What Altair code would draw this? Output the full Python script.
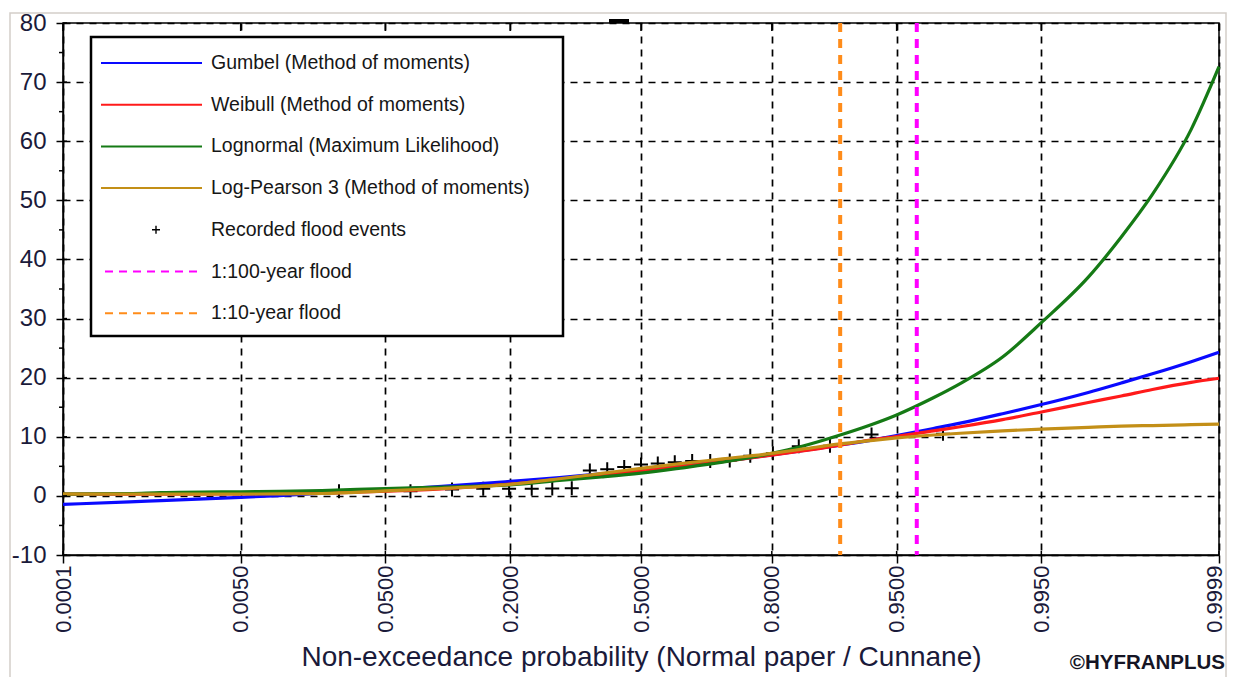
import altair as alt
import pandas as pd
from statistics import NormalDist

ND = NormalDist()
FONT = "Liberation Sans"

# ---------------- data ----------------
prob = [0.0001, 0.0005, 0.001, 0.005, 0.01, 0.02, 0.05, 0.1, 0.2, 0.3, 0.4, 0.5,
        0.6, 0.7, 0.8, 0.85, 0.9, 0.93, 0.95, 0.97, 0.98, 0.99, 0.995, 0.998,
        0.999, 0.9995, 0.9998, 0.9999]
gumbel = [-1.45, -1.0, -0.8, -0.25, 0.05, 0.45, 1.0, 1.6, 2.45, 3.1, 3.75, 4.35,
          5.05, 5.85, 6.95, 7.65, 8.6, 9.4, 10.2, 11.4, 12.3, 13.9, 15.45, 17.5,
          19.1, 20.65, 22.7, 24.3]
weibull = [0.3, 0.3, 0.3, 0.35, 0.4, 0.45, 0.8, 1.2, 2.0, 2.8, 3.5, 4.2,
           4.95, 5.8, 6.9, 7.6, 8.6, 9.45, 10.05, 11.0, 11.7, 12.9, 14.2, 15.8,
           16.9, 18.0, 19.2, 19.9]
lognormal = [0.3, 0.4, 0.55, 0.7, 0.75, 0.9, 1.25, 1.5, 1.85, 2.6, 3.2, 3.85,
             4.7, 5.7, 7.2, 8.4, 10.3, 12.0, 13.7, 16.6, 19.0, 23.5, 29.3, 37.0,
             43.8, 51.0, 62.0, 72.6]
lp3 = [0.32, 0.32, 0.32, 0.32, 0.33, 0.4, 0.85, 1.25, 1.95, 2.9, 3.8, 4.65,
       5.45, 6.25, 7.2, 7.9, 8.8, 9.35, 9.8, 10.3, 10.6, 11.0, 11.3, 11.6,
       11.8, 11.9, 12.05, 12.15]

event_p = [0.026, 0.069, 0.112, 0.155, 0.198, 0.241, 0.284, 0.328, 0.371, 0.414,
           0.457, 0.500, 0.543, 0.586, 0.629, 0.672, 0.716, 0.759, 0.802, 0.845,
           0.888, 0.931, 0.974]
event_v = [0.8, 0.8, 1.1, 1.2, 1.2, 1.2, 1.25, 1.3, 4.3, 4.5, 4.9, 5.3,
           5.5, 5.7, 5.9, 5.9, 6.0, 6.8, 7.2, 8.4, 8.5, 10.4, 10.5]

tick_p = [0.0001, 0.005, 0.05, 0.2, 0.5, 0.8, 0.95, 0.995, 0.9999]
tick_labels = ["0.0001", "0.0050", "0.0500", "0.2000", "0.5000", "0.8000",
               "0.9500", "0.9950", "0.9999"]
y_major = list(range(-10, 81, 10))
y_minor = list(range(-5, 80, 10))

ref_names = ["1:100-year flood", "1:10-year flood"]
ref_p = [0.962, 0.9]
ref_colors = ["#ff00ff", "#ff8c1a"]

series_names = ["Gumbel (Method of moments)", "Weibull (Method of moments)",
                "Lognormal (Maximum Likelihood)", "Log-Pearson 3 (Method of moments)"]
series_values = [gumbel, weibull, lognormal, lp3]
series_colors = ["#0a0aff", "#ff1a1a", "#157a15", "#c38f17"]

# ---------------- layout ----------------
W, H = 1156, 532
PAD = {"left": 55, "top": 15, "right": 8, "bottom": 122}

# ---------------- scales / axes ----------------
z = lambda p: ND.inv_cdf(p)
tick_z = [z(p) for p in tick_p]
zmin, zmax = tick_z[0], tick_z[-1]

expr = "'" + tick_labels[-1] + "'"
for i in range(len(tick_z) - 2, -1, -1):
    mid = (tick_z[i] + tick_z[i + 1]) / 2
    expr = f"datum.value < {mid:.4f} ? '{tick_labels[i]}' : ({expr})"

LABEL_COLOR = "#1a1a3a"
XS = alt.Scale(domain=[zmin, zmax], nice=False, zero=False)
YS = alt.Scale(domain=[-10, 80], nice=False, zero=False)
XAXIS = alt.Axis(values=tick_z, labelExpr=expr, labelAngle=-90, labelFlush=False,
                 labelOverlap=False, labelFont=FONT, labelFontSize=22,
                 labelOffset={"condition": {"test": "datum.value > 3.5", "value": -5},
                              "value": 0},
                 labelColor=LABEL_COLOR, labelPadding=2, tickSize=8,
                 tickColor="black", tickWidth=1.5, domainColor="black",
                 domainWidth=1.5, grid=True, gridColor="black", gridDash=[7, 6],
                 gridWidth=1.7, gridOpacity=1,
                 title="Non-exceedance probability (Normal paper / Cunnane)",
                 titleFont=FONT, titleFontSize=28, titleFontWeight="normal",
                 titleColor=LABEL_COLOR, titleX=W / 2, titleY=110,
                 titleBaseline="alphabetic", titleAlign="center")
YAXIS = alt.Axis(values=y_major, labelExpr="'' + datum.value", labelFont=FONT,
                 labelFontSize=24, labelColor=LABEL_COLOR, labelPadding=10,
                 tickSize=7, tickColor="black", tickWidth=1.5,
                 domainColor="black", domainWidth=1.5, grid=True,
                 gridColor="black", gridDash=[7, 6], gridWidth=1.7,
                 gridOpacity=1, title=None)
X_ENC = alt.X("z:Q", scale=XS, axis=XAXIS)
Y_ENC = alt.Y("v:Q", scale=YS, axis=YAXIS)

one = pd.DataFrame({"k": [0]})
layers = []

# frame of the screenshot
layers.append(alt.Chart(one).mark_rect(fill=None, stroke="#d3cec9", strokeWidth=1.5).encode(
    x=alt.value(-53), x2=alt.value(W + 7), y=alt.value(-10), y2=alt.value(700)))

# recorded events
ev = pd.DataFrame({"z": [z(p) for p in event_p], "v": event_v})
PLUS = "M-1,0H1M0,-1V1"
layers.append(alt.Chart(ev).mark_point(shape=PLUS, size=196, filled=False,
                                       strokeWidth=2, color="black", opacity=1)
              .encode(x=X_ENC, y=Y_ENC))

# fitted distributions
for name, vals, col in zip(series_names, series_values, series_colors):
    df = pd.DataFrame({"z": [z(p) for p in prob], "v": vals})
    layers.append(alt.Chart(df).mark_line(color=col, strokeWidth=3.2,
                                          interpolate="monotone")
                  .encode(x=X_ENC, y=Y_ENC))

# reference lines
for p, col in zip(ref_p[::-1], ref_colors[::-1]):
    df = pd.DataFrame({"z": [z(p)]})
    layers.append(alt.Chart(df).mark_rule(color=col, strokeWidth=4,
                                          strokeDash=[9, 7]).encode(x=X_ENC))

# extra tick decorations
tdf = pd.DataFrame({"z": tick_z})
layers.append(alt.Chart(tdf).mark_rule(color="black", strokeWidth=1.5).encode(
    x=X_ENC, y=alt.value(0), y2=alt.value(8)))
layers.append(alt.Chart(tdf).mark_rule(color="black", strokeWidth=1.5).encode(
    x=X_ENC, y=alt.value(H - 4), y2=alt.value(H)))
layers.append(alt.Chart(pd.DataFrame({"v": y_major})).mark_rule(
    color="black", strokeWidth=1.5).encode(y=Y_ENC, x=alt.value(0), x2=alt.value(4)))
layers.append(alt.Chart(pd.DataFrame({"v": y_minor})).mark_rule(
    color="black", strokeWidth=1.5).encode(y=Y_ENC, x=alt.value(-4), x2=alt.value(0)))

# legend box
layers.append(alt.Chart(one).mark_rect(fill="white", stroke="black", strokeWidth=2.5).encode(
    x=alt.value(28), x2=alt.value(500), y=alt.value(14), y2=alt.value(313)))

leg_names = series_names + ["Recorded flood events"] + ref_names
for i, name in enumerate(leg_names):
    yy = 40 + 41.7 * i
    if i < 4:
        layers.append(alt.Chart(one).mark_rule(color=series_colors[i], strokeWidth=2).encode(
            x=alt.value(38), x2=alt.value(139), y=alt.value(yy)))
    elif i == 4:
        layers.append(alt.Chart(one).mark_point(shape=PLUS, size=64, filled=False,
                                                strokeWidth=1.4, color="black", opacity=1)
                      .encode(x=alt.value(93), y=alt.value(yy)))
    else:
        layers.append(alt.Chart(one).mark_rule(color=ref_colors[i - 5], strokeWidth=2,
                                               strokeDash=[8, 6]).encode(
            x=alt.value(42), x2=alt.value(139), y=alt.value(yy)))
    layers.append(alt.Chart(one).mark_text(text=name, align="left", baseline="middle",
                                           font=FONT, fontSize=19.5, color="#161616")
                  .encode(x=alt.value(148), y=alt.value(yy)))

# small black bar above the top border
layers.append(alt.Chart(one).mark_rect(color="black").encode(
    x=alt.value(546), x2=alt.value(566), y=alt.value(-4), y2=alt.value(0)))

# copyright
layers.append(alt.Chart(one).mark_text(text="\u00a9HYFRANPLUS", align="right",
                                       baseline="alphabetic", font=FONT, fontSize=20.5,
                                       fontWeight="bold", color="#151525")
              .encode(x=alt.value(W + 6), y=alt.value(646)))

chart = alt.layer(*layers).properties(
    width=W, height=H,
    padding=PAD,
    autosize=alt.AutoSizeParams(type="none"),
    background="white",
).configure_view(stroke="black", strokeWidth=1.5)

chart.save("out.html", embed_options={"renderer": "svg", "actions": False})
